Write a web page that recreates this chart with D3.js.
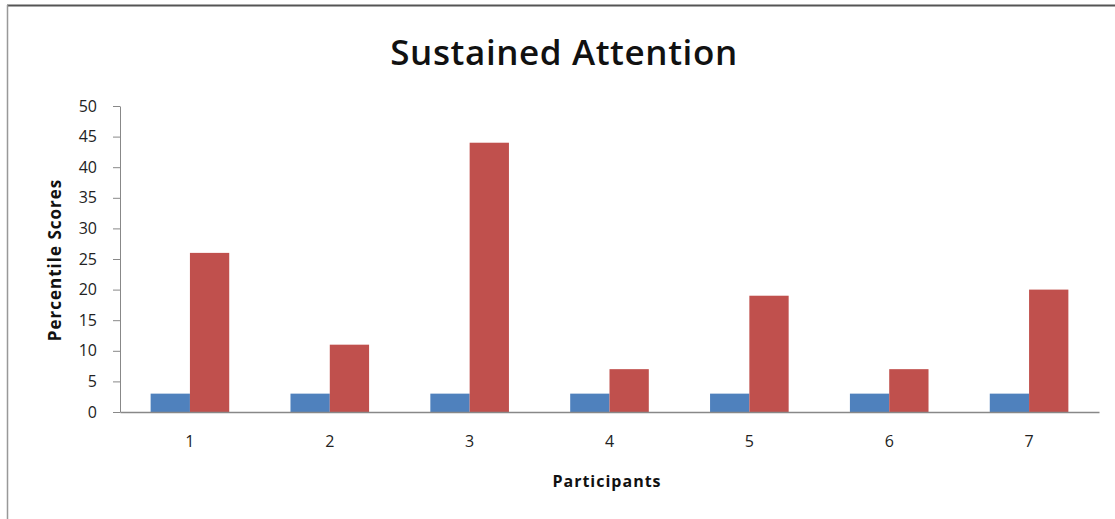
<!DOCTYPE html>
<html>
<head>
<meta charset="utf-8">
<script src="https://cdn.jsdelivr.net/npm/d3@7"></script>
<style>
  body { margin: 0; background: #fff; }
  text { font-family: "Open Sans", "DejaVu Sans", sans-serif; }
</style>
</head>
<body>
<div id="chart"></div>
<script>
var participants = ["1", "2", "3", "4", "5", "6", "7"];
var blueScores = [3, 3, 3, 3, 3, 3, 3];
var redScores = [26, 11, 44, 7, 19, 7, 20];
var yTicks = [0, 5, 10, 15, 20, 25, 30, 35, 40, 45, 50];

var width = 1115, height = 519;
var margin = {left: 120, right: 16, top: 106, bottom: 107};

var svg = d3.select("#chart").append("svg")
    .attr("width", width)
    .attr("height", height);

// frame
svg.append("line")
    .attr("x1", 7).attr("x2", width).attr("y1", 5.5).attr("y2", 5.5)
    .style("stroke", "#555").style("stroke-width", 2);
svg.append("line")
    .attr("x1", 7.5).attr("x2", 7.5).attr("y1", 5).attr("y2", height)
    .style("stroke", "#999").style("stroke-width", 1.5);

var x = d3.scaleBand()
    .domain(participants)
    .range([margin.left, width - margin.right]);

var y = d3.scaleLinear()
    .domain([0, 50])
    .range([height - margin.bottom, margin.top]);

var barW = x.bandwidth() * 0.281;

var g = svg.append("g");

participants.forEach(function(p, i) {
  var cx = x(p) + x.bandwidth() / 2;
  g.append("rect")
    .attr("x", cx - barW)
    .attr("y", y(blueScores[i]))
    .attr("width", barW)
    .attr("height", y(0) - y(blueScores[i]))
    .style("fill", "#4f81bd");
  g.append("rect")
    .attr("x", cx)
    .attr("y", y(redScores[i]))
    .attr("width", barW)
    .attr("height", y(0) - y(redScores[i]))
    .style("fill", "#c0504d");
});

var yAxis = svg.append("g")
    .attr("transform", "translate(" + margin.left + ",0)")
    .call(d3.axisLeft(y).tickValues(yTicks).tickSize(7).tickSizeOuter(0).tickPadding(16));
yAxis.selectAll("line, path").style("stroke", "#888");
yAxis.selectAll("text").style("font-size", "16px").style("fill", "#222");

var xAxis = svg.append("g")
    .attr("transform", "translate(0," + y(0) + ")")
    .call(d3.axisBottom(x).tickSize(0).tickPadding(24));
xAxis.select("path").style("stroke", "#888").style("stroke-width", 1.5);
xAxis.selectAll("text").style("font-size", "16px").style("fill", "#222");

svg.append("text")
    .attr("x", 564)
    .attr("y", 65)
    .attr("text-anchor", "middle")
    .style("font-size", "35px")
    .style("font-weight", "600")
    .style("letter-spacing", "0.6px")
    .style("fill", "#111")
    .text("Sustained Attention");

svg.append("text")
    .attr("x", 607)
    .attr("y", 487)
    .attr("text-anchor", "middle")
    .style("font-size", "16px")
    .style("font-weight", "bold")
    .style("letter-spacing", "1px")
    .style("fill", "#111")
    .text("Participants");

svg.append("text")
    .attr("transform", "translate(61,260) rotate(-90)")
    .attr("text-anchor", "middle")
    .style("font-size", "17px")
    .style("font-weight", "bold")
    .style("letter-spacing", "1px")
    .style("fill", "#111")
    .text("Percentile Scores");
</script>
</body>
</html>
